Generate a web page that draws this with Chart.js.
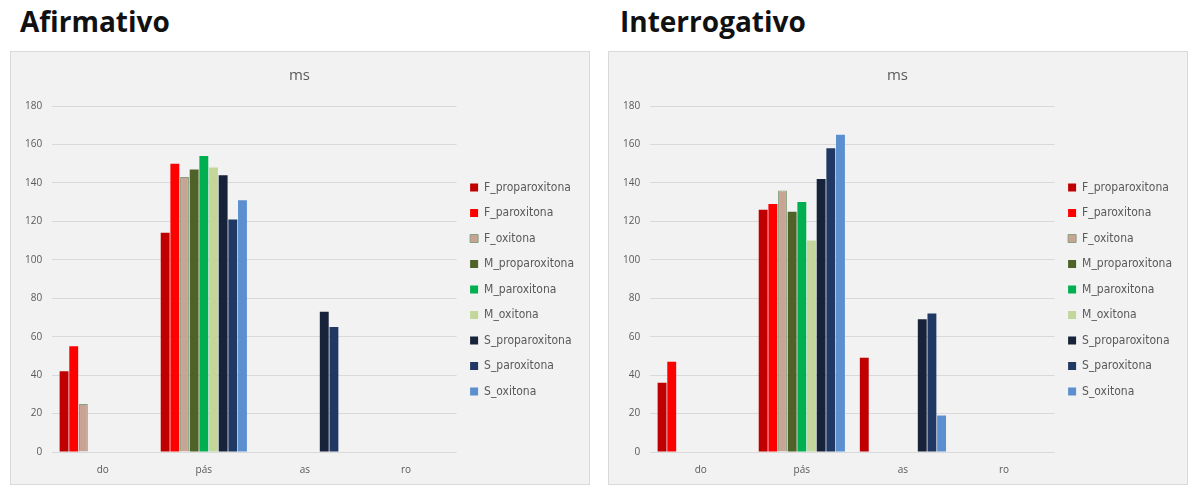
<!DOCTYPE html>
<html>
<head>
<meta charset="utf-8">
<script src="https://cdn.jsdelivr.net/npm/chart.js@4/dist/chart.umd.min.js"></script>
<style>
  body { margin: 0; background: #fff; width: 1190px; height: 485px; position: relative; overflow: hidden; }
  h2 { position: absolute; margin: 0; font: 700 28px "Open Sans", sans-serif; color: #111; top: 2px; }
  .box { position: absolute; top: 51px; width: 580px; height: 434px; background: #f2f2f2; border: 1px solid #d9d9d9; box-sizing: border-box; }
  .box canvas { position: absolute; left: 0; top: 0; }
</style>
</head>
<body>
<h2 style="left:20px">Afirmativo</h2>
<h2 style="left:620px">Interrogativo</h2>
<div class="box" style="left:10px"><canvas id="chartAfirm" width="578" height="432"></canvas></div>
<div class="box" style="left:608px"><canvas id="chartInterr" width="578" height="432"></canvas></div>
<script>
const categories = ['do', 'pás', 'as', 'ro']
const seriesNames = ['F_proparoxitona', 'F_paroxitona', 'F_oxitona', 'M_proparoxitona', 'M_paroxitona', 'M_oxitona', 'S_proparoxitona', 'S_paroxitona', 'S_oxitona']
const yTicks = [0, 20, 40, 60, 80, 100, 120, 140, 160, 180]

// afirmativo, one array per series (ms)
const afF_proparoxitona = [42, 114, null, null]
const afF_paroxitona = [55, 150, null, null]
const afF_oxitona = [25, 143, null, null]
const afM_proparoxitona = [null, 147, null, null]
const afM_paroxitona = [null, 154, null, null]
const afM_oxitona = [null, 148, null, null]
const afS_proparoxitona = [null, 144, 73, null]
const afS_paroxitona = [null, 121, 65, null]
const afS_oxitona = [null, 131, null, null]

// interrogativo
const inF_proparoxitona = [36, 126, 49, null]
const inF_paroxitona = [47, 129, null, null]
const inF_oxitona = [null, 136, null, null]
const inM_proparoxitona = [null, 125, null, null]
const inM_paroxitona = [null, 130, null, null]
const inM_oxitona = [null, 110, null, null]
const inS_proparoxitona = [null, 142, 69, null]
const inS_paroxitona = [null, 158, 72, null]
const inS_oxitona = [null, 165, 19, null]

const fills = ['#c00000', '#ff0000', '#c9a494', '#4f6228', '#00b050', '#c4d79b', '#17233a', '#1f3864', '#5b8fd0']
const borders = ['#c00000', '#ff0000', '#86a07f', '#4f6228', '#00b050', '#c4d79b', '#17233a', '#1f3864', '#5b8fd0']

const afirmData = [afF_proparoxitona, afF_paroxitona, afF_oxitona, afM_proparoxitona, afM_paroxitona, afM_oxitona, afS_proparoxitona, afS_paroxitona, afS_oxitona]
const interrData = [inF_proparoxitona, inF_paroxitona, inF_oxitona, inM_proparoxitona, inM_paroxitona, inM_oxitona, inS_proparoxitona, inS_paroxitona, inS_oxitona]

const axisFont = { family: '"Open Sans", sans-serif', size: 10 }
const legendFont = { family: '"Liberation Sans Narrow", "DejaVu Sans Condensed", "Open Sans", sans-serif', size: 12 }

const makeChart = (canvasId, seriesData) => {
    const ctx = document.getElementById(canvasId).getContext('2d')
    return new Chart(ctx, {
        type: 'bar',
        data: {
            labels: categories,
            datasets: seriesData.map((values, i) => ({
                label: seriesNames[i],
                data: values,
                backgroundColor: fills[i],
                borderColor: borders[i],
                borderWidth: i === 2 ? 1 : 0,
                barPercentage: 0.92,
                categoryPercentage: 0.86
            }))
        },
        options: {
            responsive: false,
            animation: false,
            layout: { padding: { left: 4, right: 5, top: 0, bottom: -4 } },
            plugins: {
                title: {
                    display: true,
                    text: 'ms',
                    color: '#595959',
                    font: { family: '"Open Sans", sans-serif', size: 15, weight: 'normal' },
                    padding: { top: 15, bottom: 21 }
                },
                legend: {
                    position: 'right',
                    // empty title only pushes the items down a bit
                    title: { display: true, text: '', font: { size: 10 }, padding: 13.5 },
                    labels: {
                        boxWidth: 8,
                        boxHeight: 8,
                        padding: 13.5,
                        color: '#595959',
                        font: legendFont
                    }
                },
                tooltip: { enabled: false }
            },
            scales: {
                x: {
                    grid: { display: false, drawTicks: false },
                    border: { display: false },
                    ticks: { color: '#595959', font: axisFont, padding: 12 }
                },
                y: {
                    min: 0,
                    max: 180,
                    afterBuildTicks: axis => { axis.ticks = yTicks.map(v => ({ value: v })) },
                    grid: { color: '#d9d9d9', drawTicks: false },
                    border: { display: false },
                    ticks: { color: '#595959', font: axisFont, padding: 10 }
                }
            }
        }
    })
}

makeChart('chartAfirm', afirmData)
makeChart('chartInterr', interrData)
</script>
</body>
</html>
